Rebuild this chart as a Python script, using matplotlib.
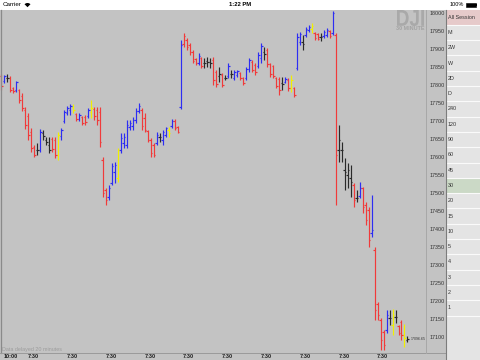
import matplotlib
matplotlib.use("Agg")
import matplotlib.pyplot as plt
import numpy as np
from matplotlib.patches import Rectangle, Wedge, PathPatch
from matplotlib.textpath import TextPath
from matplotlib.font_manager import FontProperties
from matplotlib.transforms import Affine2D

plt.rcParams['font.family'] = ['Liberation Sans', 'DejaVu Sans']

# DJI 30 minute bars
highs = [17830, 17827, 17830, 17824, 17794, 17810, 17788, 17777,
         17738, 17722, 17680, 17633, 17639, 17677, 17675, 17655, 17655, 17655, 17655, 17669, 17680,
         17730, 17741, 17747, 17747, 17722, 17722, 17713, 17716, 17736, 17758, 17738, 17738, 17738,
         17600, 17514, 17522, 17583, 17586, 17625, 17666, 17666, 17702, 17702, 17711, 17736, 17750,
         17736, 17722, 17675, 17653, 17639, 17669, 17666, 17675, 17683, 17683, 17705, 17705, 17686,
         17924, 17944, 17930, 17916, 17896, 17874, 17888, 17877, 17874, 17877, 17874, 17877, 17841,
         17849, 17833, 17827, 17860, 17841, 17841, 17841, 17835, 17822, 17849, 17874, 17869, 17860,
         17891, 17916, 17905, 17902, 17860, 17855, 17822, 17822, 17822, 17822, 17819, 17827, 17794,
         17944, 17946, 17938, 17960, 17966, 17971, 17946, 17944, 17944, 17952, 17957, 17952, 18005,
         17944, 17689, 17641, 17597, 17583, 17578, 17528, 17508, 17531, 17517, 17475, 17461, 17494,
         17350, 17198, 17153, 17120, 17176, 17176, 17179, 17176, 17134, 17148, 17137, 17104]
lows = [17786, 17805, 17808, 17780, 17777, 17780, 17750, 17727,
        17677, 17647, 17614, 17600, 17605, 17614, 17647, 17633, 17611, 17614, 17597, 17591, 17647,
        17694, 17716, 17716, 17722, 17700, 17700, 17689, 17689, 17708, 17708, 17702, 17689, 17628,
        17489, 17467, 17481, 17522, 17528, 17531, 17611, 17625, 17625, 17675, 17675, 17694, 17722,
        17675, 17669, 17641, 17600, 17600, 17633, 17641, 17633, 17655, 17655, 17680, 17675, 17666,
        17733, 17905, 17896, 17883, 17860, 17855, 17855, 17847, 17847, 17849, 17847, 17799, 17794,
        17808, 17794, 17813, 17819, 17819, 17813, 17822, 17813, 17799, 17813, 17835, 17835, 17827,
        17847, 17860, 17869, 17849, 17822, 17819, 17791, 17772, 17786, 17805, 17783, 17780, 17766,
        17841, 17910, 17896, 17932, 17946, 17944, 17924, 17924, 17921, 17930, 17932, 17930, 17938,
        17467, 17586, 17586, 17508, 17514, 17489, 17461, 17475, 17486, 17445, 17411, 17350, 17378,
        17147, 17147, 17065, 17065, 17112, 17134, 17106, 17140, 17106, 17093, 17073, 17087]
opens = [17824, 17810, 17819, 17819, 17791, 17786, 17786, 17769,
         17730, 17713, 17669, 17628, 17619, 17619, 17666, 17647, 17633, 17650, 17647, 17605, 17658,
         17700, 17722, 17730, 17738, 17719, 17705, 17711, 17711, 17713, 17725, 17733, 17730, 17725,
         17591, 17508, 17489, 17528, 17558, 17542, 17619, 17639, 17633, 17683, 17686, 17702, 17727,
         17730, 17708, 17672, 17647, 17633, 17639, 17655, 17647, 17661, 17675, 17686, 17700, 17683,
         17738, 17913, 17924, 17910, 17891, 17871, 17860, 17874, 17860, 17866, 17863, 17869, 17835,
         17824, 17827, 17819, 17824, 17830, 17819, 17827, 17833, 17819, 17819, 17844, 17863, 17855,
         17852, 17874, 17891, 17896, 17858, 17852, 17819, 17816, 17805, 17808, 17813, 17791, 17791,
         17847, 17919, 17919, 17938, 17952, 17955, 17944, 17941, 17932, 17935, 17938, 17949, 17944,
         17938, 17619, 17619, 17564, 17550, 17542, 17522, 17486, 17492, 17514, 17467, 17453, 17389,
         17342, 17192, 17147, 17115, 17120, 17153, 17134, 17156, 17131, 17142, 17106, 17093]
closes = [17797, 17824, 17819, 17786, 17783, 17808, 17758, 17736,
          17689, 17661, 17625, 17605, 17619, 17669, 17658, 17641, 17619, 17622, 17605, 17661, 17675,
          17725, 17736, 17741, 17730, 17705, 17716, 17694, 17697, 17730, 17736, 17713, 17702, 17641,
          17500, 17481, 17514, 17575, 17578, 17619, 17653, 17655, 17689, 17694, 17702, 17727, 17741,
          17686, 17675, 17647, 17611, 17605, 17661, 17655, 17669, 17680, 17666, 17700, 17680, 17669,
          17910, 17935, 17905, 17891, 17866, 17860, 17880, 17852, 17860, 17863, 17860, 17813, 17802,
          17830, 17799, 17819, 17852, 17830, 17835, 17838, 17819, 17805, 17844, 17869, 17841, 17835,
          17883, 17908, 17885, 17858, 17830, 17824, 17797, 17786, 17802, 17816, 17791, 17813, 17772,
          17932, 17941, 17913, 17955, 17960, 17963, 17930, 17927, 17932, 17946, 17952, 17935, 17999,
          17605, 17647, 17619, 17558, 17564, 17531, 17481, 17486, 17514, 17461, 17425, 17370, 17397,
          17176, 17162, 17093, 17079, 17162, 17153, 17162, 17156, 17112, 17106, 17098, 17096.65]
bar_colors = ("rbkrrbrr"
              "rrrrkbkkkrryb"
              "bbbyrbrrbyrrr"
              "rrbbbybbbbbbb"
              "rrrrrbkbbybrr"
              "brrrrrbrkkkrr"
              "krkbkbbrrbbrr"
              "bbkrrrrrkbryr"
              "bbkbbyrrkbbrb"
              "rkkkkkrkbrrrb"
              "rrrrbkykrryk")

day_starts = [8, 21, 34, 47, 60, 73, 86, 99, 112, 125]
first_label = "10:00"
day_label = "7:30"
price_ticks = list(range(17100, 18001, 50))
buttons = ["All Session", "M", "2W", "W", "2D", "D", "240", "120", "90", "60",
           "45", "30", "20", "15", "10", "5", "4", "3", "2", "1"]
last_price = "17096.65"

PALETTE = {"r": "#f03a3a", "b": "#2d2df2", "k": "#2a2a2a", "y": "#f0f000"}
GRAY = "#c3c3c3"

W, H = 480, 360
fig = plt.figure(figsize=(4.8, 3.6), dpi=100, facecolor=GRAY)

# chart area in pixels: x 0..426, y 9.5..353 (from top)
top_px, bot_px, right_px = 9.5, 353.0, 426.0
ax = fig.add_axes([0, (H - bot_px) / H, right_px / W, (bot_px - top_px) / H])
ax.set_facecolor(GRAY)
for s in ax.spines.values():
    s.set_visible(False)

n = len(highs)
x = np.arange(n)
cols = [PALETTE[c] for c in bar_colors]
lw = 0.85
ax.vlines(x, lows, highs, colors=cols, lw=lw)
ax.hlines(opens, x - 0.5, x, colors=cols, lw=lw)
ax.hlines(closes, x, x + 0.5, colors=cols, lw=lw)

ax.set_xlim(-0.5025, 142.21)
ax.set_ylim(17056.5, 18008.7)
ax.set_xticks([])
ax.yaxis.tick_right()
ax.set_yticks(price_ticks)
ax.set_yticklabels([str(p) for p in price_ticks])
ax.tick_params(axis="y", length=0, pad=2.3, labelsize=3.9, labelcolor="#333333")

# time labels under the chart
for i, lbl in [(0, first_label)] + [(d, day_label) for d in day_starts]:
    ax.annotate(lbl, xy=(i, 0), xycoords=("data", "axes fraction"),
                xytext=(1.8, -2.7), textcoords="offset points",
                ha="left", va="center", fontsize=4.0, fontweight="bold",
                color="#1e1e1e", annotation_clip=False)

# last price tag
ax.annotate(last_price, xy=(n - 1, closes[-1]), xytext=(2.2, 0), textcoords="offset points",
            ha="left", va="center", fontsize=2.6, color="#333333")

# UI chrome drawn in pixel units
ui = fig.add_axes([0, 0, 1, 1])
ui.set_xlim(0, W)
ui.set_ylim(H, 0)
ui.axis("off")
ui.patch.set_alpha(0)

# status bar
ui.add_patch(Rectangle((0, 0), W, top_px, facecolor="white", edgecolor="none"))
ui.text(2.5, 4.8, "Carrier", fontsize=4.5, va="center", ha="left", color="black")
ui.add_patch(Wedge((27.5, 7.2), 4.2, 225, 315, facecolor="black", edgecolor="none"))
ui.text(240, 4.8, "1:22 PM", fontsize=4.2, fontweight="bold", va="center", ha="center", color="black")
ui.text(463.5, 4.8, "100%", fontsize=4.0, va="center", ha="right", color="black")
ui.add_patch(Rectangle((465.5, 2.6), 10.5, 4.6, facecolor="black", edgecolor="black", lw=0.4))
ui.add_patch(Rectangle((476.2, 3.9), 1.0, 2.0, facecolor="black", edgecolor="none"))

# frame lines
ui.plot([0.6, 0.6], [top_px, bot_px], color="#8a8a8a", lw=0.9)
ui.plot([0, 445.5], [bot_px, bot_px], color="#9a9a9a", lw=0.7)
ui.plot([right_px, right_px], [top_px, bot_px], color="#a8a8a8", lw=0.7)

# watermark
tp = TextPath((0, 0), "DJI", size=1, prop=FontProperties(family="Liberation Sans", weight="bold"))
bb = tp.get_extents()
sx, sy = 27.0 / bb.width, 16.0 / bb.height
tr = Affine2D().scale(sx, -sy).translate(397 - bb.x0 * sx, 26 + bb.y0 * sy)
ui.add_patch(PathPatch(tr.transform_path(tp), facecolor="#a9a9a9", edgecolor="none"))
ui.text(424, 28.6, "30 MINUTE", fontsize=3.9, fontweight="bold", ha="right", va="center", color="#a3a3a3")

ui.text(1.5, 349.4, "Data delayed 20 minutes", fontsize=3.9, ha="left", va="center", color="#9c9c9c")

# interval buttons on the right
px0, bh = 445.5, 15.3
ui.add_patch(Rectangle((px0, top_px), W - px0, H - top_px, facecolor="#e4e4e4", edgecolor="none"))
for k, name in enumerate(buttons):
    y0 = top_px + k * bh
    fc = "#e4e4e4"
    if name == "All Session":
        fc = "#e6caca"
    elif name == "30":
        fc = "#cbd9c6"
    ui.add_patch(Rectangle((px0, y0), W - px0, bh, facecolor=fc, edgecolor="none"))
    ui.plot([px0, W], [y0 + bh, y0 + bh], color="#fafafa", lw=0.8)
    ui.text(px0 + 2.0, y0 + bh / 2, name, fontsize=3.9, ha="left", va="center", color="#333333")
ui.plot([px0, px0], [top_px, H], color="#7c7c7c", lw=0.8)

fig.savefig("out.png", dpi=100, facecolor=GRAY)
